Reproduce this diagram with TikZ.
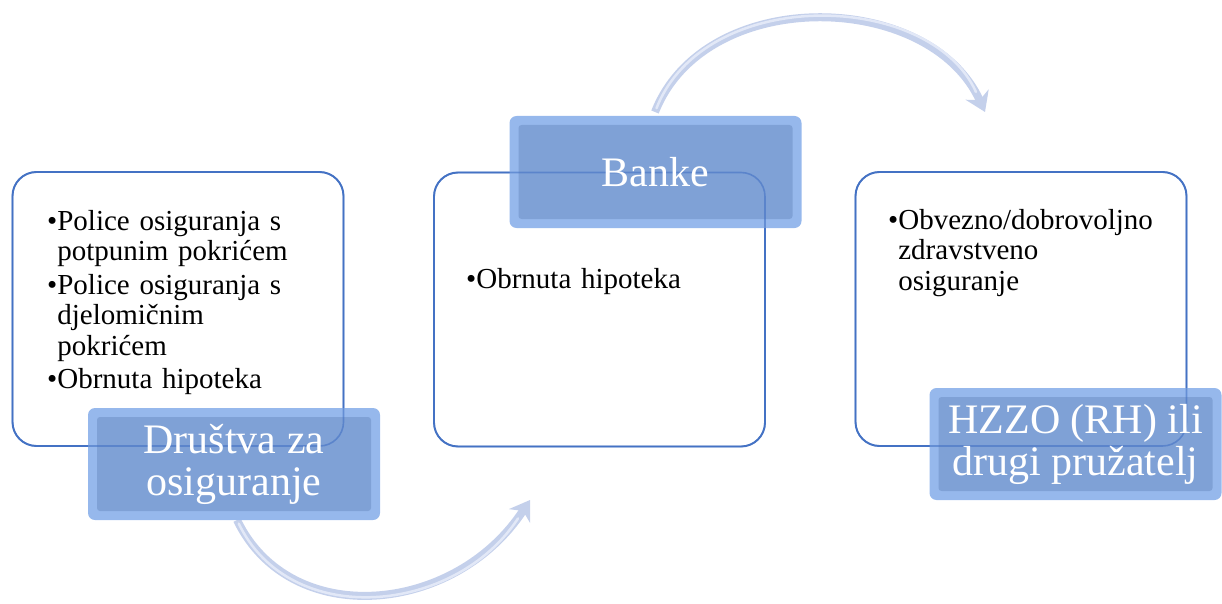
\documentclass[tikz,border=0pt]{standalone}
\usepackage{fontspec}
\setmainfont{Liberation Serif}
\usetikzlibrary{arrows.meta}
\definecolor{boxline}{RGB}{68,114,196}
\definecolor{bluebevel}{RGB}{150,184,236}
\definecolor{blueface}{RGB}{127,161,214}
\definecolor{arrowc}{RGB}{196,208,235}
\definecolor{arrowhl}{RGB}{226,232,247}
\begin{document}
\begin{tikzpicture}[x=1pt,y=-1pt,
  whitebox/.style={draw=boxline, line width=1.9pt, fill=white, rounded corners=24pt,
    minimum width=331pt, minimum height=274pt, inner sep=0pt, outer sep=0pt},
  bluebox/.style={fill=bluebevel, rounded corners=7pt, minimum width=292pt,
    minimum height=112pt, inner sep=0pt, outer sep=0pt,
    path picture={\fill[blueface, rounded corners=3pt]
      ([xshift=9pt,yshift=-9pt]path picture bounding box.north west) rectangle
      ([xshift=-9pt,yshift=9pt]path picture bounding box.south east);}},
  seeline/.style={draw=boxline, line width=1.6pt, draw opacity=0.6, rounded corners=24pt},
  bluetext/.style={text=white, align=center, font=\fontsize{42}{42}\selectfont, inner sep=0pt},
  listtext/.style={anchor=base west, text width=310pt, align=left, inner sep=0pt,
    font=\fontsize{29}{30.5}\selectfont},
  flowarrow/.style={draw=arrowc, line width=8pt,
    -{Stealth[length=19pt,width=25pt,inset=6pt]}},
  flowhl/.style={draw=arrowhl, line width=2.5pt, line cap=round}
]
\useasboundingbox (0,0) rectangle (1222,604);

% arrows (behind the boxes)
\coordinate (a1s) at (237,520);
\coordinate (a1e) at (530,500);
\coordinate (a2s) at (655,112);
\coordinate (a2e) at (985,112);
\draw[flowarrow] (a1s) .. controls (290,630) and (455,615) .. (a1e);
\draw[flowhl, shorten >=22pt, shorten <=4pt] (a1s) .. controls (290,630) and (455,615) .. (a1e);
\draw[flowarrow] (a2s) .. controls (705,-15) and (930,-10) .. (a2e);
\draw[flowhl, shorten >=22pt, shorten <=4pt] (a2s) .. controls (705,-15) and (930,-10) .. (a2e);

% white boxes
\node[whitebox] (w1) at (178,309) {};
\node[whitebox] (w2) at (599.5,309.5) {};
\node[whitebox] (w3) at (1021,309) {};

% blue label boxes
\node[bluebox] (b1) at (234,464) {};
\node[bluebox] (b2) at (655.5,172) {};
\node[bluebox] (b3) at (1075.5,444) {};

% white box borders seen through the blue boxes
\draw[seeline] (w1.north west) rectangle (w1.south east);
\draw[seeline] (w2.north west) rectangle (w2.south east);
\draw[seeline] (w3.north west) rectangle (w3.south east);

% labels
\node[bluetext] (t1) at (b1.center) {Društva za\\osiguranje};
\node[bluetext] (t2) at (b2.center) {Banke};
\node[bluetext] (t3) at (b3.center) {HZZO (RH) ili\\drugi pružatelj};

% lists
\node[listtext] (l1) at (47,230) {\textbullet Police osiguranja s\\
  \hphantom{\textbullet}potpunim pokrićem\\[3pt]
  \textbullet Police osiguranja s\\
  \hphantom{\textbullet}djelomičnim\\
  \hphantom{\textbullet}pokrićem\\[3pt]
  \textbullet Obrnuta hipoteka};
\node[listtext] (l2) at (466,288) {\textbullet Obrnuta hipoteka};
\node[listtext] (l3) at (888,229) {\textbullet Obvezno/dobrovoljno\\
  \hphantom{\textbullet}zdravstveno\\
  \hphantom{\textbullet}osiguranje};
\end{tikzpicture}
\end{document}
